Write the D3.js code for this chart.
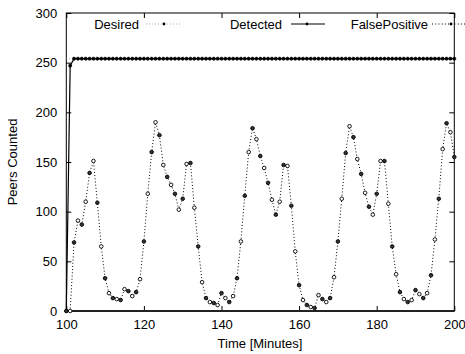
<!DOCTYPE html>
<html>
<head>
<meta charset="utf-8">
<script src="https://cdn.jsdelivr.net/npm/d3@7"></script>
<style>
  body { margin: 0; background: #fff; }
  svg { display: block; font-family: "Liberation Sans", Arial, sans-serif; }
</style>
</head>
<body>
<svg id="chart" width="465" height="354"></svg>
<script>
// minutes on the x axis, one sample per minute
const minutes = d3.range(100, 201);

const desired = [
  254, 254, 254, 254, 254, 254, 254, 254, 254, 254,
  254, 254, 254, 254, 254, 254, 254, 254, 254, 254,
  254, 254, 254, 254, 254, 254, 254, 254, 254, 254,
  254, 254, 254, 254, 254, 254, 254, 254, 254, 254,
  254, 254, 254, 254, 254, 254, 254, 254, 254, 254,
  254, 254, 254, 254, 254, 254, 254, 254, 254, 254,
  254, 254, 254, 254, 254, 254, 254, 254, 254, 254,
  254, 254, 254, 254, 254, 254, 254, 254, 254, 254,
  254, 254, 254, 254, 254, 254, 254, 254, 254, 254,
  254, 254, 254, 254, 254, 254, 254, 254, 254, 254,
  254
];

const detected = [
  0, 247, 254, 254, 254, 254, 254, 254, 254, 254,
  254, 254, 254, 254, 254, 254, 254, 254, 254, 254,
  254, 254, 254, 254, 254, 254, 254, 254, 254, 254,
  254, 254, 254, 254, 254, 254, 254, 254, 254, 254,
  254, 254, 254, 254, 254, 254, 254, 254, 254, 254,
  254, 254, 254, 254, 254, 254, 254, 254, 254, 254,
  254, 254, 254, 254, 254, 254, 254, 254, 254, 254,
  254, 254, 254, 254, 254, 254, 254, 254, 254, 254,
  254, 254, 254, 254, 254, 254, 254, 254, 254, 254,
  254, 254, 254, 254, 254, 254, 254, 254, 254, 254,
  254
];

const falsePositive = [
  0, 0, 69, 91, 87, 110, 139, 151, 109, 65,
  33, 18, 13, 12, 11, 22, 20, 15, 19, 32,
  70, 118, 160, 190, 177, 147, 135, 127, 118, 102,
  113, 148, 149, 104, 65, 29, 13, 9, 8, 6,
  18, 13, 9, 15, 33, 70, 116, 160, 184, 173,
  156, 144, 129, 112, 97, 110, 147, 146, 106, 60,
  26, 11, 6, 4, 3, 16, 12, 9, 13, 34,
  70, 113, 159, 186, 175, 153, 138, 119, 105, 97,
  118, 151, 151, 108, 65, 37, 19, 12, 9, 11,
  21, 17, 13, 18, 36, 72, 113, 163, 189, 180,
  155
];

const xTicks = [100, 120, 140, 160, 180, 200];
const yTicks = [0, 50, 100, 150, 200, 250, 300];

const svg = d3.select('#chart');
const plotL = 66.3, plotR = 454.3, plotT = 13, plotB = 311;

const x = d3.scaleLinear().domain([100, 200]).range([plotL, plotR]);
const y = d3.scaleLinear().domain([0, 300]).range([plotB, plotT]);

const fontSize = '13px';

// axes: ticks pointing inwards, mirrored on top/right
svg.append('g').attr('transform', `translate(0,${plotB})`)
  .call(d3.axisBottom(x).tickValues(xTicks).tickSize(-5).tickPadding(9).tickFormat(d3.format('d')))
  .call(g => g.select('.domain').remove())
  .call(g => g.selectAll('text').attr('font-size', fontSize).attr('fill', '#000').attr('font-family', 'inherit'));
svg.append('g').attr('transform', `translate(0,${plotT})`)
  .call(d3.axisTop(x).tickValues(xTicks).tickSize(-5).tickFormat(''))
  .call(g => g.select('.domain').remove());
svg.append('g').attr('transform', `translate(${plotL},0)`)
  .call(d3.axisLeft(y).tickValues(yTicks).tickSize(-5).tickPadding(9))
  .call(g => g.select('.domain').remove())
  .call(g => g.selectAll('text').attr('font-size', fontSize).attr('fill', '#000').attr('font-family', 'inherit'));
svg.append('g').attr('transform', `translate(${plotR},0)`)
  .call(d3.axisRight(y).tickValues(yTicks).tickSize(-5).tickFormat(''))
  .call(g => g.select('.domain').remove());

// frame
svg.append('rect').attr('x', plotL).attr('y', plotT).attr('width', plotR - plotL).attr('height', plotB - plotT)
  .attr('fill', 'none').attr('stroke', '#000').attr('stroke-width', 1);
svg.append('line').attr('x1', plotL).attr('x2', plotR).attr('y1', plotB).attr('y2', plotB)
  .attr('stroke', '#222').attr('stroke-width', 1.8);

// axis titles
svg.append('text').attr('x', 260).attr('y', 348).attr('text-anchor', 'middle')
  .attr('font-size', fontSize).text('Time [Minutes]');
svg.append('text').attr('transform', 'translate(17,162) rotate(-90)').attr('text-anchor', 'middle')
  .attr('font-size', fontSize).text('Peers Counted');

const line = d3.line().x(d => x(d[0])).y(d => y(d[1]));
const pts = vals => minutes.map((m, i) => [m, vals[i]]);

// Desired: thin gray dotted
svg.append('path').datum(pts(desired)).attr('d', line)
  .attr('fill', 'none').attr('stroke', '#999').attr('stroke-width', 0.8).attr('stroke-dasharray', '1,2');

// Detected: solid black with point markers
svg.append('path').datum(pts(detected)).attr('d', line)
  .attr('fill', 'none').attr('stroke', '#000').attr('stroke-width', 1.2);
svg.append('g').selectAll('circle').data(pts(detected)).join('circle')
  .attr('cx', d => x(d[0])).attr('cy', d => y(d[1])).attr('r', 1.6)
  .attr('fill', '#000').attr('stroke', '#000').attr('stroke-width', 0.6);

// FalsePositive: dotted with small circle markers
svg.append('path').datum(pts(falsePositive)).attr('d', line)
  .attr('fill', 'none').attr('stroke', '#000').attr('stroke-width', 1).attr('stroke-dasharray', '1,2.2');
svg.append('g').selectAll('circle').data(pts(falsePositive)).join('circle')
  .attr('cx', d => x(d[0])).attr('cy', d => y(d[1])).attr('r', 1.8)
  .attr('fill', (d, i) => i % 2 ? '#fff' : '#333').attr('stroke', '#000').attr('stroke-width', 0.9);

// legend
const legendY = 24;
const legend = [
  { name: 'Desired', textEnd: 139, x1: 146, x2: 182, mx: 164, stroke: '#999', dash: '1,2', w: 0.8 },
  { name: 'Detected', textEnd: 282, x1: 291, x2: 325, mx: 307, stroke: '#000', dash: null, w: 1.2 },
  { name: 'FalsePositive', textEnd: 428, x1: 432, x2: 465, mx: 451, stroke: '#000', dash: '1,2.2', w: 1 }
];
const lg = svg.append('g').selectAll('g').data(legend).join('g');
lg.append('text').attr('x', d => d.textEnd).attr('y', legendY + 4.5).attr('text-anchor', 'end')
  .attr('font-size', fontSize).text(d => d.name);
lg.append('line').attr('x1', d => d.x1).attr('x2', d => d.x2).attr('y1', legendY).attr('y2', legendY)
  .attr('stroke', d => d.stroke).attr('stroke-width', d => d.w).attr('stroke-dasharray', d => d.dash);
lg.append('circle').attr('cx', d => d.mx).attr('cy', legendY).attr('r', 1.4).attr('fill', '#000');
</script>
</body>
</html>
